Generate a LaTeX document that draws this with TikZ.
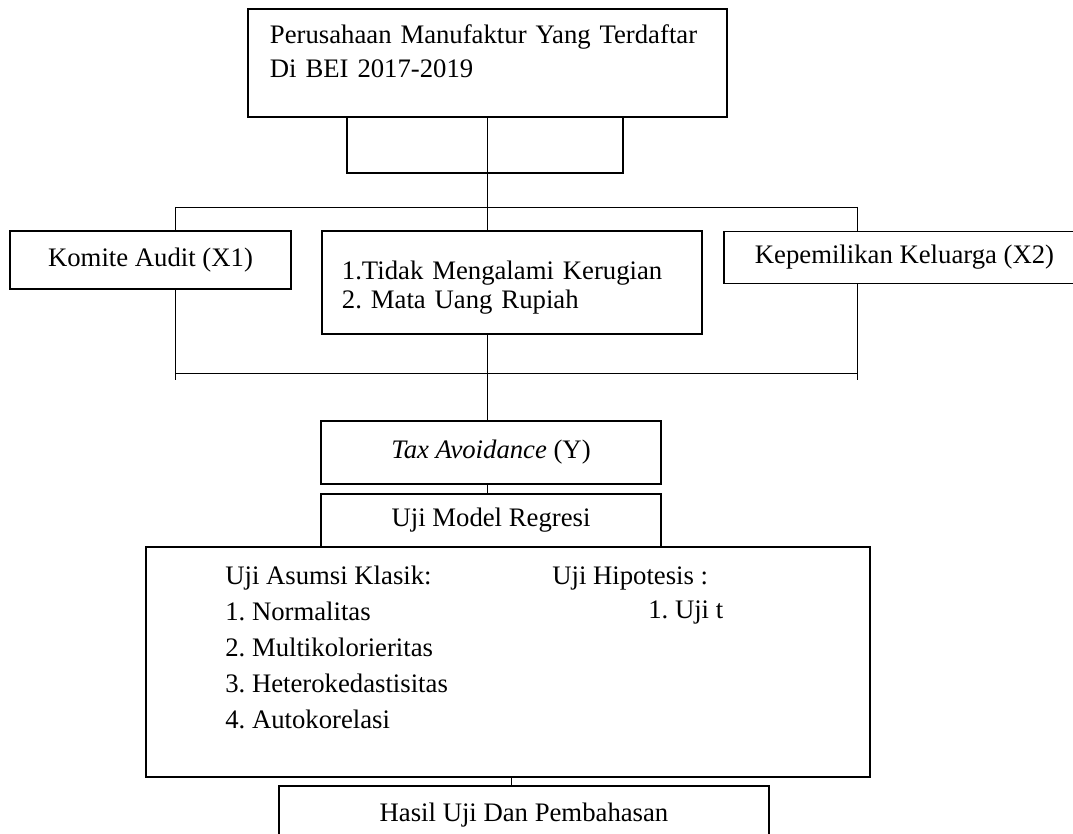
\documentclass[tikz,border=0pt]{standalone}
\usepackage{fontspec}
\setmainfont{Liberation Serif}
\usetikzlibrary{positioning, backgrounds}

\begin{document}
\frenchspacing
\begin{tikzpicture}[
    x=0.025cm, y=-0.025cm,
    box/.style={rectangle, draw, line width=1.4pt, fill=white, inner sep=0pt, font=\fontsize{19}{24}\selectfont},
    plain/.style={anchor=west, align=left, inner sep=0pt, font=\fontsize{19}{25.6}\selectfont},
    line/.style={line width=0.7pt}
]

\useasboundingbox (0,0) rectangle (1073,834);

\node (company) [box, minimum width=11.975cm, minimum height=2.7cm, text width=10.875cm, text depth=41pt, align=left] at (487.5,63) {Perusahaan Manufaktur Yang Terdaftar\\Di BEI 2017-2019};
\node (sample) [box, fill=none, minimum width=6.9cm, minimum height=1.4cm] at (485,145) {};

\node (audit) [box, minimum width=7.025cm, minimum height=1.45cm] at (150.5,260) {Komite Audit (X1)};
\node (criteria) [box, minimum width=9.5cm, minimum height=2.575cm, text width=8.5cm, text depth=18pt, align=left, font=\fontsize{19}{21}\selectfont] at (512,282.5) {1.Tidak Mengalami Kerugian\\2. Mata Uang Rupiah};
\node (family) [box, minimum width=9.025cm, minimum height=1.3cm] at (904.5,257.5) {Kepemilikan Keluarga (X2)};

\node (tax) [box, minimum width=8.5cm, minimum height=1.575cm] at (491,452.5) {\textit{Tax Avoidance} (Y)};
\node (model) [box, minimum width=8.5cm, minimum height=1.325cm] at (491,520.5) {Uji Model Regresi};

\node (tests) [box, minimum width=18.1cm, minimum height=5.75cm] at (508,662) {};
\node (classic) [plain] at (225,647) {Uji Asumsi Klasik:\\1. Normalitas\\2. Multikolorieritas\\3. Heterokedastisitas\\4. Autokorelasi};
\node (hypothesis) [plain] at (552,578) {Uji Hipotesis :};
\node (ttest) [plain] at (648,612) {1. Uji t};

\node (result) [box, minimum width=12.25cm, minimum height=1.45cm] at (524,815) {Hasil Uji Dan Pembahasan};

\coordinate (splitleft) at (175,207);
\coordinate (splitright) at (857,207);
\coordinate (joinleft) at (175,373);
\coordinate (joinright) at (857,373);
\coordinate (resultlink) at (511,757);

\begin{pgfonlayer}{background}
\draw [line] (company.south) -- (company.south |- tax.north);
\draw [line] (splitleft) -- (splitright);
\draw [line] (splitleft) -- ([yshift=-0.175cm]joinleft);
\draw [line] (splitright) -- ([yshift=-0.175cm]joinright);
\draw [line] (joinleft) -- (joinright);
\draw [line] (company.south |- tax.south) -- (company.south |- model.north);
\draw [line] (resultlink) -- (resultlink |- result.north);
\end{pgfonlayer}

\end{tikzpicture}
\end{document}
